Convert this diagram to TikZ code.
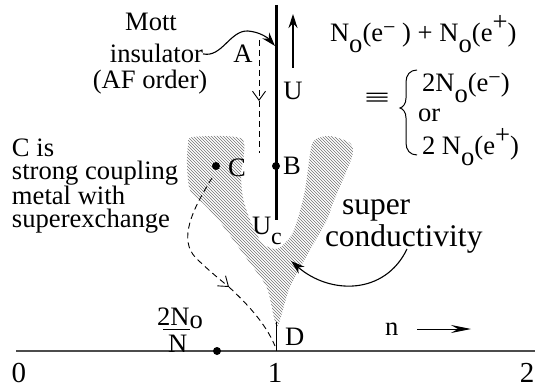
\documentclass[tikz,border=0pt]{standalone}
\usepackage{fontspec}
\setmainfont{Liberation Serif}
\usetikzlibrary{arrows.meta,patterns}
\newcommand{\myo}{\raisebox{-0.4em}{o}}
\newcommand{\mysm}{\raisebox{0.3em}{\fontsize{22}{22}\selectfont −}}
\newcommand{\mysp}{\raisebox{0.45em}{+}}
\begin{document}
\begin{tikzpicture}[x=1pt,y=-1pt,
  every node/.style={inner sep=0pt, outer sep=0pt, font=\fontsize{26.6}{28}\selectfont},
  lbl/.style={anchor=base west},
  dot/.style={circle, fill=black, minimum size=8pt, inner sep=0pt},
  dsh/.style={dash pattern=on 6pt off 4pt, line width=0.9pt},
  pointer/.style={line width=1.1pt, -{Stealth[length=14pt,width=9pt]}},
  vtip/.style={-{Straight Barb[length=9pt,width=13pt,line width=0.9pt]}},
  big/.style={font=\fontsize{31.5}{33}\selectfont},
  digit/.style={anchor=base, font=\fontsize{29}{30}\selectfont},
]
\useasboundingbox (0,0) rectangle (535,387);

% hatched superconducting region
\fill[pattern=north west lines, pattern color=black!55]
  plot[smooth cycle, tension=0.45] coordinates {
  (193,137) (242,139) (241,175) (243,198) (250,220) (262,243) (277,249)
  (291,236) (298,218) (305,190) (311,148) (316,139) (330,136) (350,143)
  (352,157) (333,203) (327,220) (310,250) (290,287) (280,320) (276,326)
  (267,288) (250,263) (220,222) (205,205) (190,190) (187,165) (188,145)};

% axis
\coordinate (ax0) at (16,351);
\coordinate (ax1) at (535,351);
\draw[line width=1.3pt, black!70] (ax0) -- (ax1);
\node[digit] (n0) at (19,382) {0};
\node[digit] (n1) at (275,382) {1};
\node[digit] (n2) at (527,382) {2};

% vertical U axis at n=1
\coordinate (vtop) at (276,5);
\coordinate (vbot) at (276,220);
\draw[line width=3pt] (vtop) -- (vbot);

% points
\node[dot] (Bd) at (276,166) {};
\node[dot] (Cd) at (216,166) {};
\node[dot] (Pd) at (217,351) {};
\node[lbl] (B) at (283,175) {B};
\node[lbl] (C) at (228,177) {C};
\node[anchor=base] (A) at (243,63) {A};
\node[lbl] (D) at (285,345) {D};
\node[lbl] (Uc) at (252,235) {U\raisebox{-0.35em}{\fontsize{24}{24}\selectfont c}};

% U arrow
\coordinate (ua1) at (293,68);
\coordinate (ua2) at (293,14);
\draw[pointer] (ua1) -- (ua2);
\node[anchor=base] (U) at (293,100) {U};

% Mott insulator
\node[anchor=base] (mott) at (151,31) {Mott};
\node[anchor=base east] (ins) at (203,63) {insulator};
\node[anchor=base] (af) at (150,89) {(AF order)};
\coordinate (mtip) at (275,46);
\draw[pointer] (ins.east) .. controls (222,58) and (230,30) .. (248,31)
  .. controls (260,32) and (268,38) .. (mtip);

% dashed path A -> B
\coordinate (a1) at (259,40);
\coordinate (amid) at (259,101);
\coordinate (a2) at (259,153);
\draw[dsh, vtip] (a1) -- (amid);
\draw[dsh] (amid) -- (a2);

% dashed path C -> D
\coordinate (c0) at (212,178);
\coordinate (cmid) at (229,287);
\coordinate (dend) at (275,346);
\draw[dsh, vtip] (c0) .. controls (192,210) and (178,240) .. (196,258)
  .. controls (206,268) and (218,278) .. (cmid);
\draw[dsh] (cmid) .. controls (245,302) and (265,322) .. (dend);

% D tick
\coordinate (d1) at (276,322);
\coordinate (d2) at (276,351);
\draw[line width=0.8pt] (d1) -- (d2);

% formula
\node[lbl] (f1) at (330,42) {N\myo(e\mysm\ ) + N\myo(e\mysp)};
\node (eq) at (377,100) {\scalebox{1.7}[1]{≡}};
\draw[line width=1pt] (417,70) .. controls (410,70) and (406,75) .. (406,82) -- (406,98)
  .. controls (406,104) and (403,107) .. (400,108)
  .. controls (403,109) and (406,112) .. (406,118) -- (406,143)
  .. controls (406,150) and (410,155) .. (417,155);
\node[lbl] (f2) at (422,92) {2N\myo(e\mysm)};
\node[lbl] (f3) at (418,122) {or};
\node[lbl] (f4) at (422,155) {2 N\myo(e\mysp)};

% superconductivity
\node[lbl, big] (sup1) at (342,215) {super};
\node[lbl, big] (sup2) at (325,247) {conductivity};
\coordinate (sca) at (407,249);
\coordinate (sctip) at (291,261);
\draw[pointer] (sca) .. controls (385,295) and (330,295) .. (sctip);

% C description
\node[anchor=north west, align=left, font=\fontsize{26.6}{22.7}\selectfont] (txt) at (12,139)
  {C is\\strong coupling\\metal with\\superexchange};

% n arrow
\node[lbl] (nn) at (385,335) {n};
\coordinate (na1) at (417,329);
\coordinate (na2) at (471,329);
\draw[line width=1pt, -{Stealth[length=20pt,width=8pt,inset=7pt]}] (na1) -- (na2);

% fraction 2N_o/N
\node[lbl] (fr1) at (157,325) {2N\raisebox{-0.12em}{o}};
\coordinate (bar1) at (163,329);
\coordinate (bar2) at (190,329);
\draw[line width=1pt] (bar1) -- (bar2);
\node[lbl] (fr2) at (168,352) {N};
\end{tikzpicture}
\end{document}
